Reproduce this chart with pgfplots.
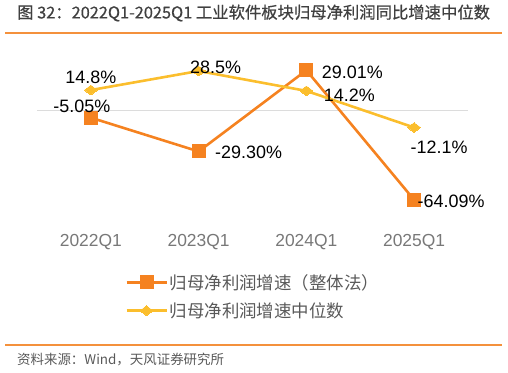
\documentclass[border=0pt]{standalone}
\usepackage{fontspec}
\usepackage{pgfplots}
\pgfplotsset{compat=1.18}
\setmainfont{Liberation Sans}
\newfontfamily\cjk{Noto Sans CJK SC}
\newfontfamily\cjkt[FakeBold=0.6]{Noto Sans CJK SC}
\definecolor{orgA}{RGB}{245,130,32}
\definecolor{yelA}{RGB}{251,190,45}
\definecolor{sepc}{RGB}{244,145,60}
\definecolor{zerol}{RGB}{220,220,220}
\definecolor{tickc}{RGB}{120,120,120}
\definecolor{legc}{RGB}{89,89,89}
\definecolor{titc}{RGB}{64,64,64}
\begin{document}
\begin{tikzpicture}[x=1bp,y=1bp]
\path[use as bounding box] (0,0) rectangle (508,372);
\node[anchor=west, text=titc, inner sep=0] at (17,359) {\cjkt\fontsize{16.4}{18}\selectfont 图 32：2022Q1-2025Q1 工业软件板块归母净利润同比增速中位数};
\draw[sepc, line width=2bp] (5,339) -- (502,339);
\draw[sepc, line width=1.5bp] (5,27) -- (502,27);
\node[anchor=west, text=legc, inner sep=0] at (17,12) {\cjk\fontsize{13.5}{15}\selectfont 资料来源：Wind，天风证券研究所};
\begin{axis}[at={(37bp,150bp)}, anchor=south west, scale only axis,
  width=431bp, height=167bp,
  xmin=-0.5, xmax=3.5, ymin=-80, ymax=40,
  axis line style={draw=none}, tick style={draw=none},
  xtick={0,1,2,3}, xticklabels={2022Q1,2023Q1,2024Q1,2025Q1},
  xticklabel style={font=\fontsize{17.5}{20}\selectfont, text=tickc, anchor=center, yshift=-20bp},
  ytick={0}, yticklabels={}, ymajorgrids, major grid style={zerol, line width=1.2bp},
  clip=false,
  legend style={at={(0,0)}, anchor=north west, xshift=88bp, yshift=-50bp,
    draw=none, fill=none, font=\cjk\fontsize{17.5}{20}\selectfont, text=legc,
    row sep=8bp, inner sep=0pt, legend cell align=left,
    /tikz/every even column/.append style={column sep=4bp}},
  legend image code/.code={\draw[mark repeat=2, mark phase=2, #1] plot coordinates {(0bp,0bp)(20bp,0bp)(40bp,0bp)};},
  nodes near coords={\pgfplotspointmeta\%},
  point meta=explicit symbolic,
  visualization depends on={\thisrow{dx} \as \dx},
  visualization depends on={\thisrow{dy} \as \dy},
  nodes near coords style={anchor=center, xshift=\dx bp, yshift=\dy bp,
    font=\fontsize{18}{20}\selectfont, text=black, inner sep=0pt},
]
\addplot[orgA, line width=2.6bp, mark=square*, mark size=6.5bp,
  mark options={solid, fill=orgA, draw=orgA, line width=0pt}]
  table[x=x, y=y, meta=lab]{
x y lab dx dy
0 -5.05 -5.05 -9 11
1 -29.30 -29.30 50 -1
2 29.01 29.01 46 -2
3 -64.09 -64.09 37 -1
};
\addlegendentry{归母净利润增速（整体法）}
\addplot[yelA, line width=2.6bp, mark=diamond*, mark size=6.5bp,
  mark options={solid, fill=yelA, draw=yelA, rotate=90, line width=0pt}]
  table[x=x, y=y, meta=lab]{
x y lab dx dy
0 14.8 14.8 0 13
1 28.5 28.5 17 4
2 14.2 14.2 43 -4
3 -12.1 -12.1 25 -20
};
\addlegendentry{归母净利润增速中位数}
\end{axis}
\end{tikzpicture}
\end{document}
